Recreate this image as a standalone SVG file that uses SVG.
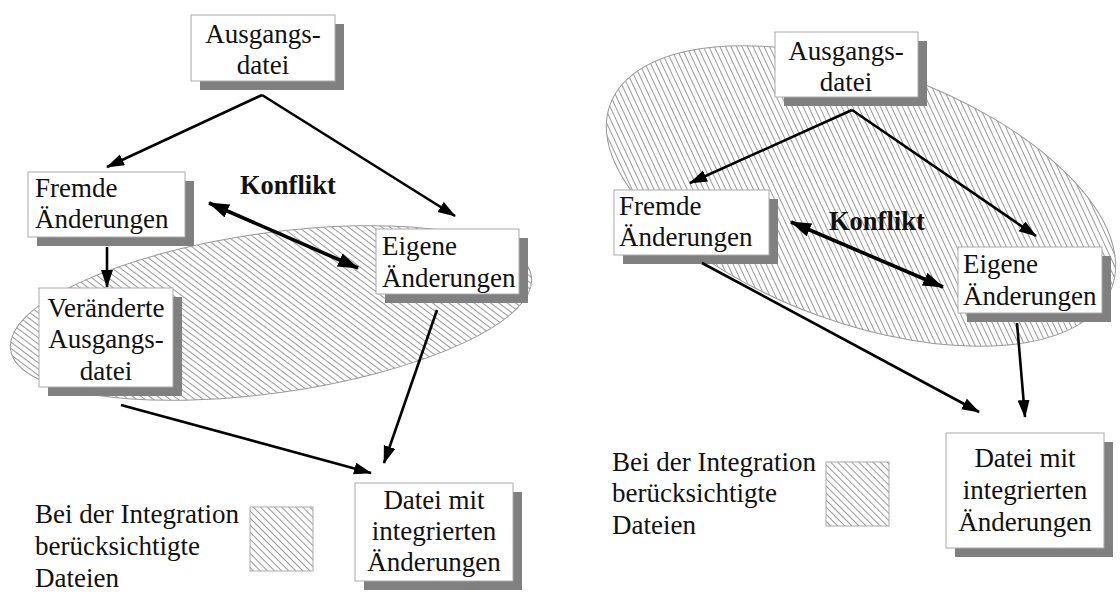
<svg xmlns="http://www.w3.org/2000/svg" width="1120" height="601" viewBox="0 0 1120 601">
<style>
text{font-family:"Liberation Serif","Times New Roman",serif;font-size:27px;fill:#111}
.b{font-weight:bold;font-size:26.5px}
.m{text-anchor:middle}
.box{fill:#fff;stroke:#aaa;stroke-width:1}
.sh{fill:#808080}
.hatch{fill:url(#h);stroke:#999;stroke-width:1}
.ar{stroke:#000;stroke-width:2.6;fill:none;marker-end:url(#a)}
.dbl{stroke:#000;stroke-width:3.6;fill:none;marker-start:url(#a2);marker-end:url(#a2)}
</style>
<defs>
<pattern id="h" patternUnits="userSpaceOnUse" width="5" height="5" patternTransform="rotate(-45)">
<rect width="5" height="5" fill="#fff"/>
<line x1="0.5" y1="0" x2="0.5" y2="5" stroke="#999" stroke-width="1"/>
</pattern>
<marker id="a" markerUnits="userSpaceOnUse" markerWidth="20" markerHeight="14" refX="17" refY="6" orient="auto">
<path d="M0,0 L18,6 L0,12 Z" fill="#000"/>
</marker>
<marker id="a2" markerUnits="userSpaceOnUse" markerWidth="24" markerHeight="16" refX="20" refY="7" orient="auto-start-reverse">
<path d="M0,0 L21,7 L0,14 Z" fill="#000"/>
</marker>
</defs>

<!-- hatched regions -->
<ellipse class="hatch" cx="271" cy="313" rx="263" ry="80" transform="rotate(-8 271 313)"/>
<ellipse class="hatch" cx="861" cy="196" rx="267" ry="127" transform="rotate(20 861 196)"/>

<!-- LEFT diagram nodes -->
<g id="l-ausgang">
<rect class="sh" x="200" y="24" width="144" height="66"/>
<rect class="box" x="191" y="15" width="144" height="66"/>
<text class="m" x="263" y="43">Ausgangs-</text>
<text class="m" x="263" y="74">datei</text>
</g>
<g id="l-fremde">
<rect class="sh" x="37" y="181" width="157" height="65"/>
<rect class="box" x="28" y="172" width="157" height="65"/>
<text x="35" y="197">Fremde</text>
<text x="35" y="228">Änderungen</text>
</g>
<g id="l-veraendert">
<rect class="sh" x="48" y="297" width="134" height="99"/>
<rect class="box" x="39" y="288" width="134" height="99"/>
<text class="m" x="106" y="317">Veränderte</text>
<text class="m" x="106" y="348">Ausgangs-</text>
<text class="m" x="106" y="380">datei</text>
</g>
<g id="l-eigene">
<rect class="sh" x="385" y="238" width="143" height="65"/>
<rect class="box" x="376" y="229" width="143" height="65"/>
<text x="382" y="255">Eigene</text>
<text x="382" y="287">Änderungen</text>
</g>
<g id="l-datei">
<rect class="sh" x="364" y="492" width="158" height="98"/>
<rect class="box" x="355" y="483" width="158" height="98"/>
<text class="m" x="434" y="509">Datei mit</text>
<text class="m" x="434" y="540">integrierten</text>
<text class="m" x="434" y="571">Änderungen</text>
</g>
<g id="l-legend">
<text x="35" y="523">Bei der Integration</text>
<text x="35" y="555"> berücksichtigte</text>
<text x="35" y="587">Dateien</text>
<rect x="250" y="507" width="63" height="64" fill="url(#h)" stroke="#aaa" stroke-width="1"/>
</g>
<text class="b" x="240" y="194">Konflikt</text>

<!-- RIGHT diagram nodes -->
<g id="r-ausgang">
<rect class="sh" x="784" y="41" width="143" height="65"/>
<rect class="box" x="775" y="32" width="143" height="65"/>
<text class="m" x="846" y="60">Ausgangs-</text>
<text class="m" x="846" y="91">datei</text>
</g>
<g id="r-fremde">
<rect class="sh" x="623" y="199" width="155" height="65"/>
<rect class="box" x="614" y="190" width="155" height="65"/>
<text x="619" y="215">Fremde</text>
<text x="619" y="246">Änderungen</text>
</g>
<g id="r-eigene">
<rect class="sh" x="967" y="256" width="144" height="66"/>
<rect class="box" x="958" y="247" width="144" height="66"/>
<text x="963" y="273">Eigene</text>
<text x="963" y="305">Änderungen</text>
</g>
<g id="r-datei">
<rect class="sh" x="955" y="442" width="158" height="115"/>
<rect class="box" x="946" y="433" width="158" height="115"/>
<text class="m" x="1025" y="467">Datei mit</text>
<text class="m" x="1025" y="499">integrierten</text>
<text class="m" x="1025" y="531">Änderungen</text>
</g>
<g id="r-legend">
<text x="612" y="471">Bei der Integration</text>
<text x="612" y="502"> berücksichtigte</text>
<text x="612" y="534">Dateien</text>
<rect x="826" y="462" width="63" height="64" fill="url(#h)" stroke="#aaa" stroke-width="1"/>
</g>
<text class="b" x="829" y="230">Konflikt</text>

<!-- connectors -->
<g id="connectors">
<line class="ar" x1="262" y1="95" x2="107" y2="167"/>
<line class="ar" x1="262" y1="95" x2="455" y2="216"/>
<line class="dbl" x1="209" y1="203" x2="358" y2="268"/>
<line class="ar" x1="107" y1="247" x2="107" y2="287"/>
<line class="ar" x1="121" y1="405" x2="371" y2="473"/>
<line class="ar" x1="437" y1="310" x2="384" y2="463"/>

<line class="ar" x1="852" y1="110" x2="690" y2="183"/>
<line class="ar" x1="852" y1="110" x2="1036" y2="236"/>
<line class="dbl" x1="791" y1="222" x2="943" y2="287"/>
<line class="ar" x1="702" y1="263" x2="979" y2="412"/>
<line class="ar" x1="1017" y1="323" x2="1025" y2="417"/>
</g>
</svg>
